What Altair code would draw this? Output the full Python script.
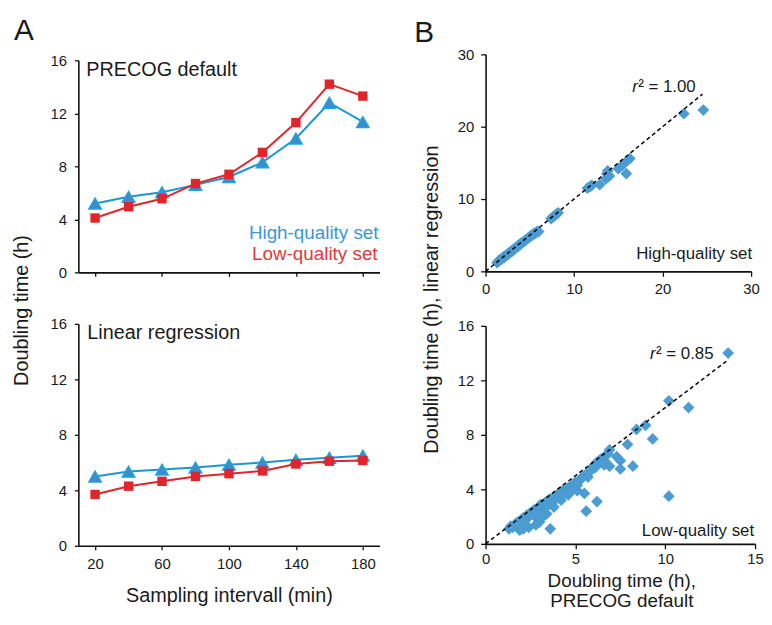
import altair as alt
import pandas as pd

FONT = "Liberation Sans, Arial, Helvetica, sans-serif"
LETTER_FONT = "Liberation Sans Narrow, Liberation Sans, Arial, sans-serif"
BLUE_LINE = "#1b96d4"
BLUE_FILL = "#3a8dc9"
BLUE_EDGE = "#1fa6e2"
RED = "#e1262b"
DIAMOND = "#4a9cd2"
TXT = "#1a1a1a"

# ---------------- data: panel A ----------------
intervals = [20, 40, 60, 80, 100, 120, 140, 160, 180]
precog_high = [5.2, 5.7, 6.05, 6.6, 7.2, 8.3, 10.1, 12.8, 11.35]
precog_low = [4.1, 4.95, 5.55, 6.7, 7.4, 9.05, 11.3, 14.2, 13.3]
linreg_high = [5.0, 5.35, 5.5, 5.65, 5.85, 6.0, 6.2, 6.35, 6.5]
linreg_low = [3.7, 4.3, 4.65, 5.0, 5.2, 5.4, 5.9, 6.1, 6.15]

a_y_ticks = [0, 2, 4, 6, 8, 10, 12, 14, 16]

# ---------------- data: panel B ----------------
hq_precog = [1.3, 1.5, 1.6, 1.8, 1.9, 2.0, 2.1, 2.2, 2.3, 2.4,
             2.5, 2.6, 2.7, 2.8, 2.9, 3.0, 3.1, 3.2, 3.3, 3.4,
             3.5, 3.6, 3.7, 3.8, 3.9, 4.0, 4.1, 4.2, 4.4, 4.5,
             4.6, 4.8, 4.9, 5.0, 5.2, 5.3, 5.5, 5.6, 5.8, 6.0,
             7.4, 7.6, 7.8, 8.0, 8.2, 11.5, 11.8, 12.0, 12.9, 13.6,
             13.7, 13.8, 14.0, 15.0, 15.4, 15.9, 16.0, 16.3, 22.4, 24.6]
hq_linreg = [1.2, 1.4, 1.6, 1.7, 1.8, 2.0, 1.9, 2.1, 2.2, 2.3,
             2.3, 2.5, 2.6, 2.6, 2.8, 2.8, 3.0, 3.0, 3.1, 3.3,
             3.3, 3.5, 3.5, 3.7, 3.7, 3.9, 3.9, 4.0, 4.2, 4.3,
             4.4, 4.6, 4.7, 4.8, 5.0, 5.0, 5.3, 5.2, 5.5, 5.5,
             7.3, 7.5, 7.7, 7.9, 8.1, 11.5, 11.7, 11.9, 12.0, 12.8,
             13.5, 13.9, 13.2, 14.2, 14.6, 13.5, 15.3, 15.6, 21.8, 22.3]

lq_precog = [1.3, 1.4, 1.5, 1.6, 1.7, 1.8, 1.9, 2.0, 2.1, 2.2,
             2.3, 2.4, 2.5, 2.6, 2.7, 2.8, 2.9, 3.0, 3.0, 3.1,
             3.2, 3.3, 3.3, 3.4, 3.5, 3.5, 3.6, 3.7, 3.8, 3.9,
             4.0, 4.1, 4.2, 4.3, 4.4, 4.5, 4.6, 4.7, 4.8, 4.9,
             5.0, 5.1, 5.2, 5.3, 5.5, 5.6, 5.7, 5.8, 5.9, 6.0,
             6.1, 6.2, 6.3, 6.4, 6.5, 6.6, 6.7, 6.8, 6.9,
             1.9, 2.1, 2.4, 2.8, 2.9, 3.0, 3.2, 3.4, 3.6, 3.8,
             4.2, 4.6, 5.1, 5.5, 5.6, 6.2, 6.6, 6.9, 7.3, 7.5,
             7.5, 7.9, 8.2, 8.4, 8.9, 9.3, 10.2, 10.2, 11.3, 13.5]
lq_linreg = [1.1, 1.3, 1.2, 1.4, 1.5, 1.6, 1.5, 1.8, 1.9, 1.7,
             2.1, 2.0, 2.3, 2.2, 2.5, 2.4, 2.6, 2.8, 2.5, 2.9,
             2.7, 3.0, 2.6, 3.1, 2.9, 3.2, 3.3, 3.0, 3.4, 3.5,
             3.6, 3.4, 3.8, 3.9, 3.7, 4.0, 4.1, 4.2, 3.9, 4.4,
             4.5, 4.3, 4.6, 4.8, 5.0, 5.1, 4.9, 5.3, 5.5, 5.7,
             5.6, 6.0, 5.9, 6.2, 6.3, 6.1, 6.5, 6.6, 6.9,
             1.0, 1.1, 1.2, 1.4, 1.8, 1.6, 2.0, 2.2, 1.1, 2.7,
             3.2, 3.6, 3.9, 3.7, 2.4, 3.1, 5.8, 5.7, 6.4, 6.1,
             5.5, 7.3, 5.7, 8.4, 8.7, 7.7, 10.5, 3.5, 10.0, 14.0]

fit_hq = [0, 24.5]
fit_lq = [0, 13.5]

b1_ticks = [0, 10, 20, 30]
b1_yticks = [0, 5, 10, 15, 20, 25, 30]
b2_ticks = [0, 5, 10, 15]
b2_yticks = [0, 2, 4, 6, 8, 10, 12, 14, 16]

A_W = 304
B1_W = 268
B2_W = 272


def note(text, x, y, size, align="left", color=TXT, style="normal",
         font=FONT, baseline="middle"):
    return alt.Chart(pd.DataFrame({"k": [0]})).mark_text(
        align=align, baseline=baseline, font=font, fontSize=size,
        color=color, fontStyle=style
    ).encode(x=alt.value(x), y=alt.value(y), text=alt.value(text))


def a_panel(high, low, height, yrange, xaxis, yaxis, notes):
    dh = pd.DataFrame({"interval": intervals, "value": high})
    dl = pd.DataFrame({"interval": intervals, "value": low})
    xs = alt.Scale(domain=[10, 190], nice=False, zero=False)
    ys = alt.Scale(domain=[0, 16], nice=False, range=yrange)
    hl = alt.Chart(dh).mark_line(color=BLUE_LINE, strokeWidth=2).encode(
        x=alt.X("interval:Q", scale=xs, axis=xaxis),
        y=alt.Y("value:Q", scale=ys, axis=yaxis))
    hp = alt.Chart(dh).mark_point(
        shape="triangle-up", filled=True, fill=BLUE_FILL, stroke=BLUE_EDGE,
        strokeWidth=1.2, size=170, opacity=1).encode(
        x="interval:Q", y="value:Q")
    ll = alt.Chart(dl).mark_line(color=RED, strokeWidth=2).encode(
        x="interval:Q", y="value:Q")
    lp = alt.Chart(dl).mark_square(color=RED, size=90, opacity=1).encode(
        x="interval:Q", y="value:Q")
    return alt.layer(hl, hp, ll, lp, *notes).properties(width=A_W, height=height)


def b_panel(xv, yv, fit, dom_x, dom_y, yrange, xaxis, yaxis, width, height, notes):
    df = pd.DataFrame({"x": xv, "y": yv})
    ld = pd.DataFrame({"x": fit, "y": fit})
    pts = alt.Chart(df).mark_point(
        shape="diamond", filled=True, color=DIAMOND, size=140, opacity=1).encode(
        x=alt.X("x:Q", scale=alt.Scale(domain=dom_x, nice=False), axis=xaxis),
        y=alt.Y("y:Q", scale=alt.Scale(domain=dom_y, nice=False, range=yrange),
                axis=yaxis))
    ln = alt.Chart(ld).mark_line(color="black", strokeDash=[4, 3],
                                 strokeWidth=1.5).encode(x="x:Q", y="y:Q")
    return alt.layer(pts, ln, *notes).properties(width=width, height=height)


mult4 = "datum.value % 4 == 0 ? datum.label : ''"

ax_a1x = alt.Axis(values=intervals, labels=False, title=None, tickSize=4)
ax_a2x = alt.Axis(values=intervals,
                  labelExpr="(datum.value - 20) % 40 == 0 ? datum.label : ''",
                  labelPadding=7, tickSize=4, title="Sampling intervall (min)",
                  titleY=50, titleBaseline="middle")
ax_a1y = alt.Axis(values=a_y_ticks, labelExpr=mult4, labelPadding=8, tickSize=4,
                  title="Doubling time (h)", titleX=-57, titleY=258,
                  titleAngle=270, titleAlign="center", titleBaseline="middle")
ax_a2y = alt.Axis(values=a_y_ticks, labelExpr=mult4, labelPadding=8, tickSize=4,
                  title=None)

ax_b1x = alt.Axis(values=b1_ticks, labelPadding=5, tickSize=5, title=None)
ax_b1y = alt.Axis(values=b1_yticks, labelPadding=7, tickSize=5,
                  title="Doubling time (h), linear regression",
                  titleX=-55, titleY=247, titleAngle=270,
                  titleAlign="center", titleBaseline="middle")
ax_b2x = alt.Axis(values=b2_ticks, labelPadding=3, tickSize=5,
                  title=["Doubling time (h),", "PRECOG default"],
                  titleX=137, titleY=28, titleBaseline="top", titleFontSize=19,
                  titleLineHeight=20, titleAlign="center", titleAngle=0)
ax_b2y = alt.Axis(values=b2_yticks, labelExpr=mult4, labelPadding=7, tickSize=5,
                  title=None)

# row 1 starts at B1's top; A1's plot is pushed 6px down via its y range
a1 = a_panel(precog_high, precog_low, 220, [220, 6], ax_a1x, ax_a1y, [
    note("PRECOG default", 8, 16, 20),
    note("High-quality set", A_W - 1, 180, 19, align="right", color="#3b97d3"),
    note("Low-quality set", A_W - 2, 202, 19, align="right", color="#e2383a"),
    note("A", -65, -15, 30, font=LETTER_FONT, baseline="alphabetic"),
])
a2 = a_panel(linreg_high, linreg_low, 224, [224, 0], ax_a2x, ax_a2y, [
    note("Linear regression", 9, 9, 20),
])

b1 = b_panel(hq_precog, hq_linreg, fit_hq, [0, 30], [0, 30], [219, 0],
             ax_b1x, ax_b1y, B1_W, 219, [
                 note("r", 148, 33, 17, style="italic"),
                 note("\u00b2 = 1.00", 154, 33, 17),
                 note("High-quality set", B1_W + 1, 202, 17, align="right"),
                 note("B", -72, -12, 30, font=LETTER_FONT, baseline="alphabetic"),
             ])
b2 = b_panel(lq_precog, lq_linreg, fit_lq, [0, 15], [0, 16], [222, 2],
             ax_b2x, ax_b2y, B2_W, 222, [
                 note("r", 166, 30, 17, style="italic"),
                 note("\u00b2 = 0.85", 172, 30, 17),
                 note("Low-quality set", B2_W - 1, 209, 17, align="right"),
             ])

chart = alt.concat(
    a1, b1, a2, b2, columns=2, bounds="flush", align="each",
    spacing={"row": 52, "column": 107}
).properties(
    padding={"left": 4, "top": 5, "right": 0, "bottom": 0}
).configure_view(stroke=None).configure_axis(
    domainColor="#111111", domainWidth=1.6, tickColor="#111111", tickWidth=1.3,
    labelFont=FONT, labelFontSize=15, labelColor=TXT,
    titleFont=FONT, titleFontSize=20, titleFontWeight="normal", titleColor=TXT,
    grid=False, labelFlush=False, labelOverlap=False
)

chart.save("out.html", embed_options={"renderer": "svg", "actions": False})
